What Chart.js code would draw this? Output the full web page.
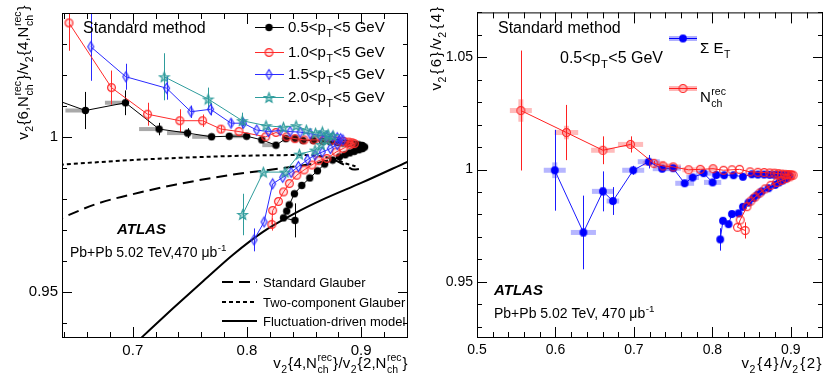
<!DOCTYPE html>
<html>
<head>
<meta charset="utf-8">
<script src="https://cdn.jsdelivr.net/npm/chart.js@4.4.0/dist/chart.umd.min.js"></script>
<style>
  html, body { margin: 0; padding: 0; background: #fff; }
  #wrap { position: relative; width: 830px; height: 390px; }
  .panel { position: absolute; top: 0; width: 415px; height: 390px; }
</style>
</head>
<body>
<div id="wrap">
  <div class="panel" style="left:0"><canvas id="left" width="415" height="390"></canvas></div>
  <div class="panel" style="left:415px"><canvas id="right" width="415" height="390"></canvas></div>
</div>
<script>
// ---------- left panel data: v2{6,Nch}/v2{4,Nch} vs v2{4,Nch}/v2{2,Nch} ----------
const blackX = [0.620, 0.6585, 0.6936, 0.7230, 0.7480, 0.7690, 0.7845, 0.7997, 0.8130, 0.8254,
  0.8340, 0.8420, 0.8490, 0.8580, 0.8660, 0.8730, 0.8790, 0.8840, 0.8880, 0.8920,
  0.8950, 0.8980, 0.9010, 0.9030, 0.9010, 0.8980, 0.8940, 0.8900, 0.8860, 0.8810,
  0.8750, 0.8680, 0.8617, 0.8550, 0.8480, 0.8415, 0.8370, 0.8348, 0.8320, 0.8420];
const blackY = [1.0136, 1.0085, 1.0110, 1.0025, 1.0012, 1.0000, 1.0002, 1.0002, 0.9990, 0.9973,
  0.9994, 0.9994, 0.9988, 0.9988, 0.9986, 0.9984, 0.9982, 0.9980, 0.9979, 0.9977,
  0.9976, 0.9974, 0.9972, 0.9967, 0.9962, 0.9958, 0.9953, 0.9948, 0.9942, 0.9935,
  0.9925, 0.9912, 0.9890, 0.9867, 0.9843, 0.9816, 0.9780, 0.9760, 0.9738, 0.9730];
const blackErr = [0, 0.006, 0.004, 0.002, 0.0016, 0, 0, 0, 0, 0,
  0, 0, 0, 0, 0, 0, 0, 0, 0, 0, 0, 0, 0, 0, 0, 0, 0, 0, 0, 0,
  0, 0, 0, 0, 0, 0, 0, 0, 0, 0.0055];
const blackSysLo = [0, 0.0175, 0.018, 0.0175, 0.018, 0.017, 0, 0.012, 0, 0.012,
  0, 0, 0, 0, 0, 0, 0, 0, 0, 0, 0, 0, 0, 0, 0, 0, 0, 0, 0, 0,
  0, 0, 0, 0, 0, 0, 0, 0, 0, 0];

const redX = [0.6441, 0.6813, 0.7129, 0.7412, 0.7611, 0.7772, 0.7930, 0.8164, 0.8254, 0.8348,
  0.8420, 0.8500, 0.8588, 0.8670, 0.8740, 0.8800, 0.8850, 0.8890, 0.8920, 0.8940,
  0.8904, 0.8842, 0.8781, 0.8700, 0.8626, 0.8568, 0.8500, 0.8436, 0.8371, 0.8320,
  0.8275, 0.8225, 0.8217];
const redY = [1.0368, 1.0159, 1.0073, 1.0052, 1.0052, 1.0025, 1.0017, 1.0000, 1.0014, 1.0000,
  0.9994, 0.9990, 0.9990, 0.9990, 0.9989, 0.9987, 0.9985, 0.9983, 0.9981, 0.9978,
  0.9975, 0.9962, 0.9951, 0.9930, 0.9923, 0.9909, 0.9893, 0.9876, 0.9849, 0.9822,
  0.9791, 0.9762, 0.9717];
const redErr = [0.009, 0.0055, 0.0037, 0.0037, 0.002, 0.0012, 0, 0, 0, 0,
  0, 0, 0, 0, 0, 0, 0, 0, 0, 0, 0, 0, 0, 0, 0, 0, 0, 0, 0, 0,
  0, 0, 0.002];

const blueX = [0.6632, 0.6939, 0.7296, 0.7509, 0.7681, 0.7860, 0.7968, 0.8085, 0.8187, 0.8290,
  0.8377, 0.8465, 0.8553, 0.8640, 0.8700, 0.8750, 0.8790, 0.8820, 0.8840,
  0.8790, 0.8730, 0.8660, 0.8596, 0.8530, 0.8450, 0.8386, 0.8313, 0.8225, 0.8150, 0.8061];
const blueY = [1.0291, 1.0194, 1.0157, 1.0081, 1.0089, 1.0044, 1.0044, 1.0022, 1.0017, 1.0020,
  1.0017, 1.0015, 1.0010, 1.0004, 1.0002, 1.0000, 0.9997, 0.9994, 0.9990,
  0.9975, 0.9962, 0.9951, 0.9941, 0.9926, 0.9904, 0.9885, 0.9869, 0.9848, 0.9725, 0.9667];
const blueErr = [0.011, 0.0042, 0.0037, 0.002, 0.002, 0.0012, 0.001, 0, 0, 0,
  0, 0, 0, 0, 0, 0, 0, 0, 0,
  0, 0, 0, 0, 0, 0, 0, 0, 0, 0, 0.0037];

const tealX = [0.7275, 0.7660, 0.7959, 0.8167, 0.8319, 0.8430, 0.8520, 0.8600, 0.8660, 0.8710,
  0.8754, 0.8700, 0.8650, 0.8596, 0.8459, 0.8333, 0.8143, 0.7962];
const tealY = [1.0194, 1.0122, 1.0052, 1.0036, 1.0031, 1.0036, 1.0022, 1.0012, 1.0016, 1.0008,
  1.0004, 0.9990, 0.9975, 0.9957, 0.9944, 0.9886, 0.9886, 0.9749];
const tealErr = [0.0076, 0.0037, 0.0026, 0, 0, 0, 0, 0, 0, 0,
  0, 0, 0, 0, 0, 0, 0, 0.0067];

// model curves
const glauberX = [0.630, 0.668, 0.706, 0.738, 0.788, 0.832, 0.861, 0.875, 0.886, 0.894, 0.898];
const glauberY = [0.9725, 0.9783, 0.9820, 0.9846, 0.9878, 0.9899, 0.9915, 0.9925, 0.9908, 0.9894, 0.9896];
const twoCompX = [0.630, 0.700, 0.788, 0.847, 0.867, 0.878, 0.888, 0.895];
const twoCompY = [0.9908, 0.9925, 0.9938, 0.9941, 0.9936, 0.9926, 0.9912, 0.9905];
const fluctX = [0.700, 0.709, 0.735, 0.762, 0.788, 0.814, 0.841, 0.868, 0.900, 0.941];
const fluctY = [0.9325, 0.9356, 0.9445, 0.9535, 0.9620, 0.9693, 0.9751, 0.9800, 0.9851, 0.9920];

// ---------- right panel data: v2{6}/v2{4} vs v2{4}/v2{2} ----------
const etX = [0.5991, 0.6356, 0.6605, 0.6732, 0.6991, 0.7189, 0.7360, 0.7500, 0.7647, 0.7749,
  0.7888, 0.8003, 0.8050, 0.8150, 0.8270, 0.8389, 0.8503, 0.8580, 0.8660, 0.8730,
  0.8790, 0.8840, 0.8890, 0.8930, 0.8960, 0.8980,
  0.8950, 0.8900, 0.8850, 0.8800, 0.8715, 0.8630, 0.8575, 0.8523, 0.8460, 0.8389,
  0.8333, 0.8249, 0.8206, 0.8135, 0.8100];
const etY = [0.9997, 0.9720, 0.9903, 0.9860, 0.9997, 1.0035, 1.0004, 1.0006, 0.9939, 0.9965,
  0.9984, 0.9943, 0.9976, 0.9975, 0.9975, 0.9968, 0.9979, 0.9978, 0.9978, 0.9977,
  0.9977, 0.9977, 0.9976, 0.9976, 0.9975, 0.9972,
  0.9962, 0.9952, 0.9943, 0.9932, 0.9917, 0.9903, 0.9888, 0.9873, 0.9853, 0.9834,
  0.9805, 0.9802, 0.9757, 0.9772, 0.9689];
const etErr = [0.018, 0.0164, 0.0089, 0.0062, 0.002, 0.003, 0.001, 0.001, 0, 0,
  0, 0, 0, 0, 0, 0, 0, 0, 0, 0, 0, 0, 0, 0, 0, 0,
  0, 0, 0, 0, 0, 0, 0, 0, 0, 0, 0, 0, 0, 0, 0.005];
const etSysX = [0.014, 0.016, 0.014, 0.008, 0.014, 0.014, 0.012, 0.010, 0.012, 0.008,
  0.010, 0.011, 0.006, 0, 0, 0, 0, 0, 0, 0, 0, 0, 0, 0, 0, 0,
  0, 0, 0, 0, 0, 0, 0, 0, 0, 0, 0, 0, 0, 0, 0];
const etSysY = [0.0035, 0.002, 0.002, 0.001, 0.001, 0, 0, 0, 0, 0,
  0, 0, 0, 0, 0, 0, 0, 0, 0, 0, 0, 0, 0, 0, 0, 0,
  0, 0, 0, 0, 0, 0, 0, 0, 0, 0, 0, 0, 0, 0, 0];

const nchX = [0.5559, 0.6140, 0.6605, 0.6957, 0.7253, 0.7372, 0.7500, 0.7698, 0.7846, 0.8008,
  0.8142, 0.8250, 0.8346, 0.8480, 0.8580, 0.8660, 0.8730, 0.8790, 0.8840, 0.8880,
  0.8920, 0.8960, 0.8990, 0.9010, 0.9030,
  0.8990, 0.8940, 0.8880, 0.8821, 0.8745, 0.8672, 0.8605, 0.8545, 0.8490, 0.8440,
  0.8355, 0.8320, 0.8418];
const nchY = [1.0263, 1.0165, 1.0086, 1.0112, 1.0028, 1.0016, 1.0012, 0.9999, 1.0001, 1.0004,
  0.9997, 0.9999, 1.0001, 0.9990, 0.9988, 0.9987, 0.9985, 0.9984, 0.9982, 0.9980,
  0.9979, 0.9978, 0.9977, 0.9976, 0.9975,
  0.9968, 0.9960, 0.9952, 0.9943, 0.9930, 0.9914, 0.9896, 0.9878, 0.9860, 0.9835,
  0.9776, 0.9743, 0.9729];
const nchErr = [0.0267, 0.0123, 0.0062, 0.0036, 0.001, 0, 0, 0, 0, 0,
  0, 0, 0, 0, 0, 0, 0, 0, 0, 0, 0, 0, 0, 0, 0,
  0, 0, 0, 0, 0, 0, 0, 0, 0, 0, 0, 0, 0.0036];
const nchSysX = [0.014, 0.015, 0.015, 0.016, 0.014, 0.012, 0.010, 0.008, 0.006, 0.005,
  0, 0, 0, 0, 0, 0, 0, 0, 0, 0, 0, 0, 0, 0, 0,
  0, 0, 0, 0, 0, 0, 0, 0, 0, 0, 0, 0, 0];
const nchSysY = [0.005, 0.003, 0.001, 0.001, 0, 0, 0, 0, 0, 0,
  0, 0, 0, 0, 0, 0, 0, 0, 0, 0, 0, 0, 0, 0, 0,
  0, 0, 0, 0, 0, 0, 0, 0, 0, 0, 0, 0, 0];

// axis labels (major ticks)
const leftXTicks = [0.7, 0.8, 0.9];
const leftYTicks = [0.95, 1];
const rightXTicks = [0.5, 0.6, 0.7, 0.8, 0.9];
const rightYTicks = [0.95, 1, 1.05];

// ---------- helpers ----------
const FONT = '"Liberation Sans", Arial, Helvetica, sans-serif';
const pts = (xs, ys) => xs.map((x, i) => ({ x, y: ys[i] }));

function mk(w, h, draw) {
  const c = document.createElement('canvas');
  c.width = w; c.height = h;
  draw(c.getContext('2d'), w / 2, h / 2);
  return c;
}
function starPath(g, cx, cy, R, r) {
  g.beginPath();
  for (let k = 0; k < 10; k++) {
    const a = -Math.PI / 2 + k * Math.PI / 5, rad = k % 2 ? r : R;
    g.lineTo(cx + rad * Math.cos(a), cy + rad * Math.sin(a));
  }
  g.closePath();
}
const marks = {
  black: mk(9, 9, (g, cx, cy) => { g.fillStyle = '#000'; g.beginPath(); g.arc(cx, cy, 3.7, 0, 7); g.fill(); }),
  red: mk(11, 11, (g, cx, cy) => {
    g.strokeStyle = '#ff2a2a'; g.lineWidth = 1.2; g.fillStyle = 'rgba(255,90,90,0.18)';
    g.beginPath(); g.arc(cx, cy, 3.9, 0, 7); g.fill(); g.stroke();
  }),
  blue: mk(9, 13, (g, cx, cy) => {
    g.strokeStyle = '#2a2aff'; g.lineWidth = 1.1; g.fillStyle = 'rgba(90,90,255,0.2)';
    g.beginPath(); g.moveTo(cx, cy - 5); g.lineTo(cx + 3, cy); g.lineTo(cx, cy + 5); g.lineTo(cx - 3, cy); g.closePath();
    g.fill(); g.stroke();
  }),
  teal: mk(13, 13, (g, cx, cy) => {
    g.strokeStyle = '#2e9c9c'; g.lineWidth = 1.1; g.fillStyle = 'rgba(46,156,156,0.45)';
    starPath(g, cx, cy + 0.5, 5.2, 2.2); g.fill(); g.stroke();
  }),
  et: mk(10, 10, (g, cx, cy) => { g.fillStyle = '#0000ff'; g.beginPath(); g.arc(cx, cy, 3.9, 0, 7); g.fill(); }),
  nch: mk(11, 11, (g, cx, cy) => {
    g.strokeStyle = '#ff2020'; g.lineWidth = 1.1;
    g.beginPath(); g.arc(cx, cy, 3.9, 0, 7); g.stroke();
  })
};

// rich text: parts are strings or {sub, sup}
function rich(ctx, parts, x, y, size, o = {}) {
  const st = o.style ? o.style + ' ' : '';
  const font = st + size + 'px ' + FONT;
  const sfont = st + (size * 0.7).toFixed(1) + 'px ' + FONT;
  const pad = o.pad || 0;
  const wStr = (s, f) => {
    ctx.font = f;
    if (!pad) return ctx.measureText(s).width;
    let w = 0;
    for (const ch of s) w += ctx.measureText(ch).width + ('{}'.includes(ch) ? 2 * pad : 0);
    return w;
  };
  const wPart = p => typeof p === 'string' ? wStr(p, font)
    : Math.max(p.sub ? wStr(p.sub, sfont) : 0, p.sup ? wStr(p.sup, sfont) : 0) + 1;
  const total = parts.reduce((a, p) => a + wPart(p), 0);
  let cx = o.align === 'right' ? x - total : x;
  ctx.fillStyle = o.color || '#000';
  ctx.textBaseline = 'alphabetic';
  ctx.textAlign = 'left';
  const put = (s, f, px, py) => {
    ctx.font = f;
    if (!pad) { ctx.fillText(s, px, py); return; }
    let xx = px;
    for (const ch of s) {
      const b = '{}'.includes(ch);
      if (b) xx += pad;
      ctx.fillText(ch, xx, py);
      xx += ctx.measureText(ch).width + (b ? pad : 0);
    }
  };
  for (const p of parts) {
    if (typeof p === 'string') put(p, font, cx, y);
    else {
      if (p.sub) put(p.sub, sfont, cx + 0.5, y + size * 0.3);
      if (p.sup) put(p.sup, sfont, cx + 0.5, y - size * 0.45);
    }
    cx += wPart(p);
  }
  return total;
}
function richUp(ctx, parts, x, yTop, size, o = {}) {
  ctx.save();
  ctx.translate(x, yTop);
  ctx.rotate(-Math.PI / 2);
  rich(ctx, parts, 0, 0, size, Object.assign({ align: 'right' }, o));
  ctx.restore();
}

const near = (v, list) => list.some(m => Math.abs(m - v) < 1e-6);
const fmt = v => String(Number(v.toFixed(3)));

function buildTicks(min, max, step) {
  return scale => {
    const t = [];
    const n0 = Math.ceil(min / step - 1e-9), n1 = Math.floor(max / step + 1e-9);
    for (let n = n0; n <= n1; n++) t.push({ value: +(n * step).toFixed(4) });
    scale.ticks = t;
  };
}

// systematic boxes and error bars, below the markers
const errorBars = {
  id: 'errorBars',
  beforeDatasetsDraw(chart) {
    const { ctx, chartArea: a, scales: { x, y } } = chart;
    ctx.save();
    ctx.beginPath(); ctx.rect(a.left, a.top, a.right - a.left, a.bottom - a.top); ctx.clip();
    chart.data.datasets.forEach(ds => {
      if (!ds.errY) return;
      ds.data.forEach((p, i) => {
        const py = y.getPixelForValue(p.y), px = x.getPixelForValue(p.x);
        const lo = ds.sysLo ? ds.sysLo[i] : 0, hi = ds.sysHi ? ds.sysHi[i] : 0;
        if (lo || hi) {
          ctx.fillStyle = ds.sysColor;
          const x0 = x.getPixelForValue(p.x - lo), x1 = x.getPixelForValue(p.x + hi);
          ctx.fillRect(x0, py - ds.sysW / 2, x1 - x0, ds.sysW);
        }
        const sy = ds.sysY ? ds.sysY[i] : 0;
        if (sy) {
          ctx.fillStyle = ds.sysColor;
          const y0 = y.getPixelForValue(p.y + sy), y1 = y.getPixelForValue(p.y - sy);
          ctx.fillRect(px - ds.sysW / 2, y0, ds.sysW, y1 - y0);
        }
      });
    });
    chart.data.datasets.forEach(ds => {
      if (!ds.errY) return;
      ctx.strokeStyle = ds.errColor;
      ctx.lineWidth = 1;
      ds.data.forEach((p, i) => {
        const e = ds.errY[i];
        if (!e) return;
        const px = Math.round(x.getPixelForValue(p.x)) + 0.5;
        ctx.beginPath();
        ctx.moveTo(px, y.getPixelForValue(p.y + e));
        ctx.lineTo(px, y.getPixelForValue(p.y - e));
        ctx.stroke();
      });
    });
    ctx.restore();
  }
};

// frame with inward ticks on all four sides
function framePlugin(xMaj, yMaj) {
  return {
    id: 'frame',
    afterDraw(chart) {
      const { ctx, chartArea: a, scales: { x, y } } = chart;
      ctx.save();
      ctx.strokeStyle = '#000';
      ctx.lineWidth = 1;
      ctx.strokeRect(a.left + 0.5, a.top + 0.5, a.right - a.left - 1, a.bottom - a.top - 1);
      ctx.beginPath();
      x.ticks.forEach(t => {
        const px = Math.round(x.getPixelForValue(t.value)) + 0.5;
        const len = near(t.value, xMaj) ? 11 : 6;
        ctx.moveTo(px, a.bottom); ctx.lineTo(px, a.bottom - len);
        ctx.moveTo(px, a.top); ctx.lineTo(px, a.top + len);
      });
      y.ticks.forEach(t => {
        const py = Math.round(y.getPixelForValue(t.value)) + 0.5;
        const len = near(t.value, yMaj) ? 10 : 5;
        ctx.moveTo(a.left, py); ctx.lineTo(a.left + len, py);
        ctx.moveTo(a.right, py); ctx.lineTo(a.right - len, py);
      });
      ctx.stroke();
      ctx.restore();
    }
  };
}

function axes(xMin, xMax, xStep, xMaj, yMin, yMax, yStep, yMaj, tickSize) {
  const tickFont = { family: FONT, size: tickSize };
  return {
    x: {
      type: 'linear', min: xMin, max: xMax,
      grid: { display: false, drawTicks: false }, border: { display: false },
      afterBuildTicks: buildTicks(xMin, xMax, xStep),
      afterFit: s => { s.height = 52; },
      ticks: { autoSkip: false, maxRotation: 0, padding: 4, color: '#000', font: tickFont,
        callback: v => near(v, xMaj) ? fmt(v) : '' }
    },
    y: {
      type: 'linear', min: yMin, max: yMax,
      grid: { display: false, drawTicks: false }, border: { display: false },
      afterBuildTicks: buildTicks(yMin, yMax, yStep),
      afterFit: s => { s.width = 62; },
      ticks: { autoSkip: false, padding: 4, color: '#000', font: tickFont,
        callback: v => near(v, yMaj) ? fmt(v) : '' }
    }
  };
}

const common = {
  responsive: false, animation: false, events: [],
  layout: { padding: { left: 0, right: 7, top: 6, bottom: 0 } },
  plugins: { legend: { display: false }, tooltip: { enabled: false } }
};

function series(label, xs, ys, color, mark, extra) {
  return Object.assign({
    label, data: pts(xs, ys), showLine: true, borderColor: color, borderWidth: 1,
    pointStyle: mark, pointRadius: 4, tension: 0, errColor: color
  }, extra);
}
function model(label, xs, ys, dash) {
  return {
    label, data: pts(xs, ys), showLine: true, borderColor: '#000', borderWidth: 2,
    borderDash: dash, pointRadius: 0, tension: 0.35, cubicInterpolationMode: 'monotone'
  };
}

const ptLabel = lo => [lo + '<p', { sub: 'T' }, '<5 GeV'];
const NCH = { sub: 'ch', sup: 'rec' };

// ---------- left chart ----------
const leftText = {
  id: 'leftText',
  afterDraw(chart) {
    const ctx = chart.ctx;
    ctx.save();
    rich(ctx, ['Standard method'], 83, 33, 16);
    const rows = [
      ['0.5', '#000', marks.black, 27],
      ['1.0', '#ff2a2a', marks.red, 52],
      ['1.5', '#2a2aff', marks.blue, 74],
      ['2.0', '#2e9c9c', marks.teal, 97]
    ];
    rows.forEach(([lo, col, img, yy]) => {
      ctx.strokeStyle = col; ctx.lineWidth = 1;
      ctx.beginPath(); ctx.moveTo(255, yy + 0.5); ctx.lineTo(284, yy + 0.5); ctx.stroke();
      ctx.drawImage(img, 269 - img.width / 2, yy - img.height / 2 + 0.5);
      rich(ctx, ptLabel(lo), 288, yy + 5, 15);
    });
    const mrows = [['Standard Glauber', [11, 6], 282], ['Two-component Glauber', [4, 3], 302],
      ['Fluctuation-driven model', [], 321]];
    mrows.forEach(([t, dash, yy]) => {
      ctx.strokeStyle = '#000'; ctx.lineWidth = 2; ctx.setLineDash(dash);
      ctx.beginPath(); ctx.moveTo(222, yy); ctx.lineTo(257, yy); ctx.stroke();
      ctx.setLineDash([]);
      rich(ctx, [t], 263, yy + 5, 13);
    });
    rich(ctx, ['ATLAS'], 117, 234, 15, { style: 'italic bold' });
    rich(ctx, ['Pb+Pb 5.02 TeV,470 \u03bcb', { sup: '-1' }], 70, 257, 14);
    const title = ['v', { sub: '2' }, '{6,N', NCH, '}/v', { sub: '2' }, '{4,N', NCH, '}'];
    richUp(ctx, title, 28, 5, 15, { pad: 0.5 });
    const xt = ['v', { sub: '2' }, '{4,N', NCH, '}/v', { sub: '2' }, '{2,N', NCH, '}'];
    rich(ctx, xt, 408, 368, 15, { align: 'right', pad: 0.5 });
    ctx.restore();
  }
};

new Chart(document.getElementById('left'), {
  type: 'scatter',
  data: {
    datasets: [
      series('2.0<pT<5 GeV', tealX, tealY, '#2e9c9c', marks.teal, { errY: tealErr }),
      series('1.5<pT<5 GeV', blueX, blueY, '#2a2aff', marks.blue, { errY: blueErr }),
      series('1.0<pT<5 GeV', redX, redY, '#ff2a2a', marks.red, { errY: redErr }),
      series('0.5<pT<5 GeV', blackX, blackY, '#000', marks.black,
        { errY: blackErr, sysLo: blackSysLo, sysHi: blackSysLo.map(() => 0), sysColor: 'rgba(140,140,140,0.75)', sysW: 4 }),
      model('Standard Glauber', glauberX, glauberY, [11, 6]),
      model('Two-component Glauber', twoCompX, twoCompY, [4, 3]),
      model('Fluctuation-driven model', fluctX, fluctY, [])
    ]
  },
  options: Object.assign({}, common, {
    scales: axes(0.638, 0.941, 0.02, leftXTicks, 0.935, 1.040, 0.01, leftYTicks, 15)
  }),
  plugins: [errorBars, framePlugin(leftXTicks, leftYTicks), leftText]
});

// ---------- right chart ----------
const rightText = {
  id: 'rightText',
  afterDraw(chart) {
    const ctx = chart.ctx;
    ctx.save();
    rich(ctx, ['Standard method'], 83, 33, 16);
    rich(ctx, ptLabel('0.5'), 145, 63, 16);
    // legend
    ctx.fillStyle = 'rgba(110,110,255,0.55)';
    ctx.fillRect(254, 36, 28, 5);
    ctx.strokeStyle = '#0000ff'; ctx.lineWidth = 1;
    ctx.beginPath(); ctx.moveTo(254, 38.5); ctx.lineTo(282, 38.5); ctx.stroke();
    ctx.drawImage(marks.et, 268 - 5, 38.5 - 5);
    rich(ctx, ['\u03a3 E', { sub: 'T' }], 285, 53, 15);
    ctx.fillStyle = 'rgba(255,120,120,0.55)';
    ctx.fillRect(254, 86, 28, 5);
    ctx.strokeStyle = '#ff2020';
    ctx.beginPath(); ctx.moveTo(254, 88.5); ctx.lineTo(282, 88.5); ctx.stroke();
    ctx.drawImage(marks.nch, 268 - 5.5, 88.5 - 5.5);
    rich(ctx, ['N', NCH], 285, 102, 15);
    rich(ctx, ['ATLAS'], 79, 295, 15, { style: 'italic bold' });
    rich(ctx, ['Pb+Pb 5.02 TeV, 470 \u03bcb', { sup: '-1' }], 79, 318, 14);
    richUp(ctx, ['v', { sub: '2' }, '{6}/v', { sub: '2' }, '{4}'], 26, 5, 15, { pad: 2 });
    rich(ctx, ['v', { sub: '2' }, '{4}/v', { sub: '2' }, '{2}'], 408, 368, 15, { align: 'right', pad: 1.5 });
    ctx.restore();
  }
};

new Chart(document.getElementById('right'), {
  type: 'scatter',
  data: {
    datasets: [
      series('Nch rec', nchX, nchY, '#ff2020', marks.nch,
        { errY: nchErr, sysLo: nchSysX, sysHi: nchSysX, sysY: nchSysY, sysColor: 'rgba(255,120,120,0.5)', sysW: 5 }),
      series('Sigma ET', etX, etY, '#1a1aff', marks.et,
        { errY: etErr, sysLo: etSysX, sysHi: etSysX, sysY: etSysY, sysColor: 'rgba(110,110,255,0.5)', sysW: 5 })
    ]
  },
  options: Object.assign({}, common, {
    scales: axes(0.5, 0.941, 0.02, rightXTicks, 0.925, 1.070, 0.01, rightYTicks, 14)
  }),
  plugins: [errorBars, framePlugin(rightXTicks, rightYTicks), rightText]
});
</script>
</body>
</html>
